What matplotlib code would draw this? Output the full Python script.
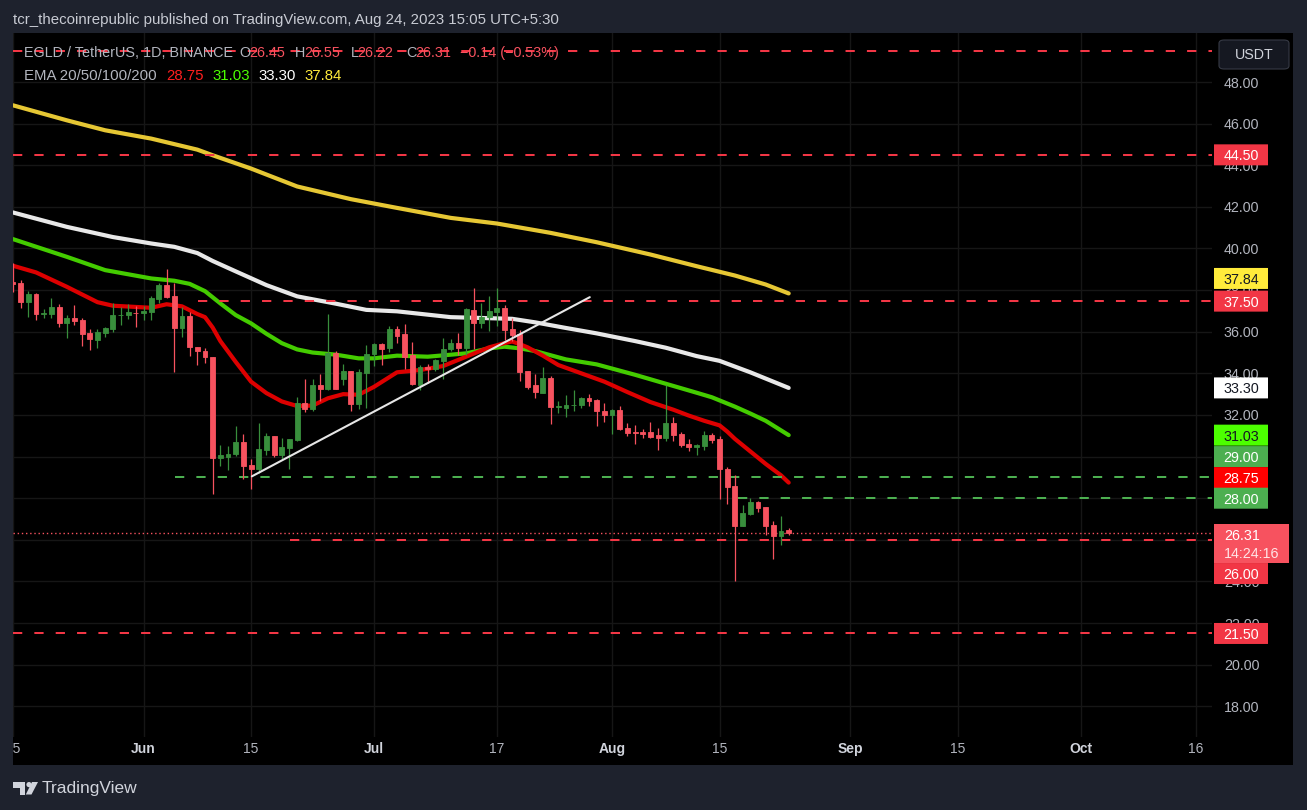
import matplotlib
matplotlib.use("Agg")
import matplotlib.pyplot as plt
import matplotlib.patches as mpatches
import matplotlib.transforms as mtransforms
import numpy as np

plt.rcParams['font.family'] = ['Liberation Sans', 'DejaVu Sans']

W, H = 1307, 810

# ---------------- data (day index 0 = May 15, 2023) ----------------
days = list(range(102))
opens = [38.37, 38.32, 37.44, 37.81, 36.86, 36.86, 37.18, 36.43, 36.66, 36.56,
         35.94, 35.60, 35.95, 36.13, 36.78, 36.78, 36.92, 36.88, 36.96, 37.58,
         38.24, 37.71, 36.20, 36.76, 35.27, 35.08, 34.80, 29.92, 29.97, 30.11,
         30.69, 29.58, 29.39, 30.32, 30.98, 30.06, 30.43, 30.78, 32.56, 32.27,
         33.42, 33.23, 34.96, 33.71, 34.10, 32.51, 34.00, 34.91, 35.42, 35.20,
         36.14, 35.87, 34.86, 33.42, 34.29, 34.19, 34.59, 35.15, 35.47, 35.23,
         37.02, 36.43, 36.72, 36.94, 37.12, 36.11, 35.87, 34.10, 33.42, 33.07,
         33.76, 32.38, 32.34, 32.48, 32.48, 32.83, 32.70, 32.21, 31.98, 32.22,
         31.36, 31.17, 31.18, 31.17, 31.02, 30.90, 31.60, 31.07, 30.59, 30.46,
         30.53, 31.04, 30.85, 29.41, 28.59, 26.67, 27.25, 27.81, 27.57, 26.70,
         26.16, 26.45]
highs = [39.28, 38.48, 37.95, 37.84, 37.07, 37.60, 37.31, 36.78, 37.28, 36.64,
         36.13, 36.13, 36.24, 37.36, 37.17, 37.33, 37.23, 37.23, 37.74, 38.32,
         39.00, 38.35, 37.20, 36.94, 35.27, 35.22, 34.80, 30.54, 30.51, 31.47,
         31.07, 29.90, 31.63, 31.15, 31.00, 30.91, 30.86, 32.88, 33.71, 33.71,
         33.95, 36.83, 35.07, 34.43, 34.10, 34.19, 35.34, 35.47, 35.47, 36.27,
         36.27, 36.35, 35.50, 34.40, 34.43, 34.70, 35.68, 35.63, 35.92, 37.15,
         38.08, 37.36, 37.74, 38.11, 37.26, 36.67, 36.10, 34.10, 33.95, 34.32,
         33.87, 32.66, 32.98, 33.18, 32.88, 32.99, 32.78, 32.56, 32.27, 32.43,
         31.60, 31.50, 31.31, 31.65, 31.36, 33.42, 31.90, 31.18, 30.83, 30.59,
         31.23, 31.12, 30.99, 29.49, 29.12, 27.68, 28.00, 27.87, 27.57, 26.91,
         27.15, 26.55]
lows = [37.92, 37.15, 36.72, 36.58, 36.64, 36.67, 36.24, 35.71, 36.34, 35.33,
        35.14, 35.23, 35.76, 36.00, 36.34, 36.62, 36.24, 36.56, 36.56, 37.36,
        37.60, 34.08, 35.77, 34.85, 34.42, 34.48, 28.19, 29.55, 29.36, 30.03,
        28.94, 28.46, 29.23, 30.06, 30.00, 29.87, 29.39, 30.75, 32.14, 32.19,
        32.67, 33.18, 33.23, 33.42, 32.20, 32.27, 32.35, 34.35, 34.38, 35.02,
        35.44, 34.19, 33.42, 33.18, 33.55, 34.11, 33.71, 35.07, 34.86, 34.86,
        35.15, 36.19, 36.03, 36.27, 35.60, 35.55, 33.63, 33.24, 32.83, 33.04,
        31.55, 32.11, 31.90, 32.19, 32.32, 32.43, 31.47, 31.66, 31.07, 31.28,
        30.99, 30.59, 30.91, 30.91, 30.32, 30.75, 30.75, 30.48, 30.27, 30.08,
        30.32, 30.67, 27.97, 27.73, 24.00, 26.67, 27.20, 27.36, 26.24, 25.09,
        25.73, 26.22]
closes = [38.29, 37.44, 37.81, 36.86, 36.89, 37.18, 36.43, 36.66, 36.53, 35.90,
          35.66, 35.98, 36.18, 36.80, 36.80, 36.94, 36.88, 37.00, 37.62, 38.24,
          37.68, 36.20, 36.76, 35.25, 35.05, 34.78, 29.92, 30.06, 30.10, 30.69,
          29.55, 29.39, 30.35, 30.98, 30.06, 30.45, 30.83, 32.56, 32.27, 33.42,
          33.23, 34.99, 33.26, 34.10, 32.51, 34.05, 34.91, 35.42, 35.15, 36.11,
          35.79, 34.80, 33.47, 34.29, 34.19, 34.62, 35.18, 35.47, 35.20, 37.07,
          36.43, 36.72, 36.98, 37.12, 36.08, 35.83, 34.06, 33.35, 33.10, 33.76,
          32.38, 32.42, 32.50, 32.50, 32.83, 32.66, 32.19, 31.98, 32.22, 31.31,
          31.15, 31.14, 31.07, 30.94, 30.90, 31.60, 31.02, 30.54, 30.46, 30.54,
          31.04, 30.80, 29.41, 28.56, 26.67, 27.28, 27.81, 27.55, 26.67, 26.16,
          26.43, 26.31]

ema20_days = [0, 3, 7, 11, 13, 18, 20, 22, 24, 25, 26, 27, 29, 31, 33, 35, 37, 39, 41,
              43, 45, 47, 50, 53, 56, 59, 62, 64, 65, 66, 67, 69, 71, 74, 77, 80, 83,
              86, 88, 90, 92, 93, 94, 96, 98, 100, 101]
ema20_vals = [39.17, 38.85, 38.16, 37.42, 37.25, 37.15, 37.32, 37.22, 36.85, 36.70,
              36.20, 35.55, 34.55, 33.60, 33.05, 32.65, 32.43, 32.45, 32.80, 33.00,
              32.97, 33.35, 34.05, 34.16, 34.35, 34.80, 35.25, 35.45, 35.53, 35.40,
              35.25, 34.85, 34.40, 34.00, 33.60, 33.10, 32.62, 32.25, 31.97, 31.72,
              31.50, 31.20, 30.85, 30.25, 29.65, 29.10, 28.75]
ema50_days = [0, 7, 12, 18, 21, 23, 25, 27, 29, 31, 33, 35, 37, 39, 42, 45, 47, 50, 54,
              59, 62, 64, 66, 68, 72, 76, 81, 85, 89, 91, 94, 96, 98, 101]
ema50_vals = [40.45, 39.60, 38.96, 38.56, 38.45, 38.30, 37.95, 37.36, 36.80, 36.40,
              35.90, 35.45, 35.15, 35.00, 34.90, 34.72, 34.72, 34.85, 34.80, 34.96,
              35.20, 35.28, 35.20, 35.07, 34.67, 34.43, 33.93, 33.50, 33.07, 32.85,
              32.40, 32.07, 31.72, 31.03]
ema100_days = [0, 7, 13, 18, 21, 24, 26, 29, 33, 37, 42, 46, 50, 57, 62, 65, 68, 72,
               76, 81, 85, 89, 92, 96, 101]
ema100_vals = [41.73, 41.04, 40.55, 40.24, 40.08, 39.78, 39.40, 38.90, 38.24, 37.70,
               37.35, 37.05, 36.98, 36.70, 36.65, 36.62, 36.45, 36.18, 35.92, 35.55,
               35.23, 34.83, 34.60, 34.05, 33.30]
ema200_days = [0, 7, 12, 18, 24, 26, 31, 37, 44, 50, 57, 63, 70, 76, 83, 89, 94, 98, 101]
ema200_vals = [46.88, 46.16, 45.68, 45.28, 44.75, 44.48, 43.84, 42.98, 42.37, 41.95,
               41.47, 41.20, 40.75, 40.30, 39.71, 39.15, 38.70, 38.27, 37.84]

trend_days = [31.1, 75.1]
trend_vals = [29.05, 37.66]

level_prices = [49.50, 44.50, 37.50, 29.00, 28.00, 26.00, 21.50]
level_colors = ['#f23645', '#f23645', '#f23645', '#4caf50', '#4caf50', '#f23645', '#f23645']
level_start = [0, 0, 24.1, 21.1, 94.4, 36.1, 0]
last_price = 26.31

tick_days = [0, 17, 31, 47, 63, 78, 92, 109, 123, 139, 154]
tick_labels = ['15', 'Jun', '15', 'Jul', '17', 'Aug', '15', 'Sep', '15', 'Oct', '16']
price_ticks = list(range(18, 50, 2))

# ---------------- figure ----------------
BG = '#1e222d'
fig = plt.figure(figsize=(W / 100, H / 100), dpi=100, facecolor=BG)

def fx(x):
    return x / W

def fy(y):
    return 1 - y / H

# black chart panel (behind the axes)
fig.patches.append(mpatches.Rectangle((fx(13), fy(765)), (1293 - 13) / W, (765 - 33) / H,
                                      transform=fig.transFigure, facecolor='#000000',
                                      edgecolor='none', zorder=-5))

ax = fig.add_axes([fx(13), fy(737), (1212 - 13) / W, (737 - 33) / H])
ax.set_zorder(1)
ax.set_facecolor('#000000')
PX_DAY = 7.68
PX_UNIT = 20.81
ax.set_xlim(0, (1212 - 13) / PX_DAY)
ax.set_ylim(48 - (737 - 82) / PX_UNIT, 48 + (82 - 33) / PX_UNIT)
for s in ax.spines.values():
    s.set_visible(False)

ax.set_yticks(price_ticks)
ax.set_yticklabels([f'{p:.2f}' for p in price_ticks])
ax.yaxis.tick_right()
ax.tick_params(axis='y', length=0, pad=8.6, labelsize=10.3, labelcolor='#b2b5be')
ax.set_xticks(tick_days)
ax.set_xticklabels([])
ax.tick_params(axis='x', length=0)
ax.grid(True, color='#161616', lw=1.0, zorder=0)
ax.set_axisbelow(True)

# EMA lines
ax.plot(ema200_days, ema200_vals, color='#e6c734', lw=3.0, solid_capstyle='round', zorder=2)
ax.plot(ema100_days, ema100_vals, color='#e8e8e8', lw=3.0, solid_capstyle='round', zorder=2)
ax.plot(ema50_days, ema50_vals, color='#44cc00', lw=3.0, solid_capstyle='round', zorder=2)
ax.plot(ema20_days, ema20_vals, color='#dd0000', lw=3.0, solid_capstyle='round', zorder=2)

# level lines
xmax = ax.get_xlim()[1]
for p, c, st in zip(level_prices, level_colors, level_start):
    ax.hlines(p, st, xmax, colors=c, lw=1.45, linestyles=(0, (4.6, 6.0)), zorder=2.5)
ax.hlines(last_price, 0, xmax, colors='#f7525f', lw=1.0, linestyles=(0, (1.0, 2.0)), zorder=2.5)

# candles
UP, DN = '#388e3c', '#f7525f'
cols = [UP if c >= o else DN for o, c in zip(opens, closes)]
ax.vlines(days, lows, highs, colors=cols, lw=0.9, zorder=4)
bh = [c - o for o, c in zip(opens, closes)]
ax.bar(days, bh, bottom=opens, width=0.64, color=cols, edgecolor=cols, lw=0.6, zorder=4.5)

# trend line
ax.plot(trend_days, trend_vals, color='#e6e6e6', lw=1.5, zorder=5, solid_capstyle='round')

# time axis labels
clip = mtransforms.Bbox.from_extents(13, 0, 1293, H)
tr_x = mtransforms.blended_transform_factory(ax.transData, fig.transFigure)
for d, lab in zip(tick_days, tick_labels):
    bold = lab.isalpha()
    t = ax.text(d, fy(749), lab, transform=tr_x, ha='center', va='center',
                fontsize=10, color='#d1d4dc' if bold else '#b2b5be',
                fontweight='bold' if bold else 'normal', clip_on=False)
    if d == 0:
        t.set_clip_on(True)
        t.set_clip_box(clip)

# price-axis boxes
tr_p = mtransforms.blended_transform_factory(fig.transFigure, ax.transData)
boxes = [  # (text, centre-price on scale, face, text colour)
    ('44.50', 44.50, '#f23645', '#ffffff'),
    ('37.84', 38.56, '#ffeb3b', '#131722'),
    ('37.50', 37.47, '#f23645', '#ffffff'),
    ('33.30', 33.30, '#ffffff', '#131722'),
    ('31.03', 31.03, '#4cff00', '#131722'),
    ('29.00', 30.00, '#4caf50', '#ffffff'),
    ('28.75', 28.99, '#ff0000', '#ffffff'),
    ('28.00', 28.00, '#4caf50', '#ffffff'),
    ('26.00', 24.38, '#f23645', '#ffffff'),
    ('21.50', 21.50, '#f23645', '#ffffff'),
]
bh_units = 21 / PX_UNIT
for txt, pc, fc, tc in boxes:
    fig.patches.append(mpatches.FancyBboxPatch((fx(1214), pc - bh_units / 2), 54 / W, bh_units,
                                               boxstyle='round,pad=0,rounding_size=0.002',
                                               transform=tr_p, facecolor=fc, edgecolor='none',
                                               zorder=5, mutation_aspect=1))
    fig.text(fx(1241), pc, txt, transform=tr_p, ha='center', va='center_baseline',
             fontsize=10.3, color=tc, zorder=6)

# current price box (two lines)
cp_c = 48 - (543.5 - 82) / PX_UNIT
cp_h = 39 / PX_UNIT
fig.patches.append(mpatches.Rectangle((fx(1214), cp_c - cp_h / 2), 75 / W, cp_h,
                                      transform=tr_p, facecolor='#f7525f', edgecolor='none', zorder=5))
fig.text(fx(1224), fy(534), f'{last_price:.2f}', ha='left', va='center_baseline',
         fontsize=10.3, color='#ffffff', zorder=6)
fig.text(fx(1224), fy(553), '14:24:16', ha='left', va='center_baseline',
         fontsize=10.3, color='#ffe4e6', zorder=6)

# USDT box
fig.patches.append(mpatches.FancyBboxPatch((fx(1219), fy(69)), 70 / W, 29 / H,
                                           boxstyle='round,pad=0,rounding_size=0.004',
                                           transform=fig.transFigure, facecolor='#151821',
                                           edgecolor='#363a45', lw=0.8, zorder=5))
fig.text(fx(1254), fy(55), 'USDT', ha='center', va='center', fontsize=10.3,
         color='#d1d4dc', zorder=6)

# header
fig.text(fx(13), fy(20), 'tcr_thecoinrepublic published on TradingView.com, Aug 24, 2023 15:05 UTC+5:30',
         ha='left', va='center', fontsize=10.8, color='#c8cbd3')

# legend rows (multi-coloured pieces at their start x, px)
def rich(y, parts, size=10.4):
    for x, s, c in parts:
        fig.text(fx(x), fy(y), s, ha='left', va='center', fontsize=size, color=c, zorder=7)

GR = '#b2b5be'
RD = '#f7525f'
rich(53, [(23.5, 'EGLD / TetherUS, 1D, BINANCE', GR),
          (239.5, 'O', GR), (249, f'{opens[-1]:.2f}', RD),
          (295, 'H', GR), (304.5, f'{highs[-1]:.2f}', RD),
          (350.5, 'L', GR), (357, f'{lows[-1]:.2f}', RD),
          (406, 'C', GR), (415.5, f'{closes[-1]:.2f}', RD),
          (459.5, '\u22120.14 (\u22120.53%)', RD)])
rich(76, [(23.5, 'EMA 20/50/100/200', GR),
          (166.5, f'{ema20_vals[-1]:.2f}', '#ff1f1f'),
          (212.5, f'{ema50_vals[-1]:.2f}', '#4cff00'),
          (258.5, f'{ema100_vals[-1]:.2f}', '#ffffff'),
          (304.5, f'{ema200_vals[-1]:.2f}', '#ffeb3b')], size=10.8)

# TradingView logo + text
logo_c = '#d1d4dc'
def P(pts):
    return [(fx(a), fy(b)) for a, b in pts]
fig.patches.append(mpatches.Polygon(P([(13, 782), (25.5, 782), (25.5, 794.5), (19.5, 794.5),
                                       (19.5, 787.5), (13, 787.5)]),
                                    closed=True, transform=fig.transFigure, fc=logo_c, ec='none'))
fig.patches.append(mpatches.Ellipse((fx(29), fy(784.6)), 5.2 / W, 5.2 / H,
                                    transform=fig.transFigure, fc=logo_c, ec='none'))
fig.patches.append(mpatches.Polygon(P([(32, 782), (38, 782), (31.5, 794.5), (25.8, 794.5)]),
                                    closed=True, transform=fig.transFigure, fc=logo_c, ec='none'))
fig.text(fx(42), fy(789), 'TradingView', ha='left', va='center', fontsize=12.5, color=logo_c)

fig.savefig('out.png', dpi=100, facecolor=BG)
